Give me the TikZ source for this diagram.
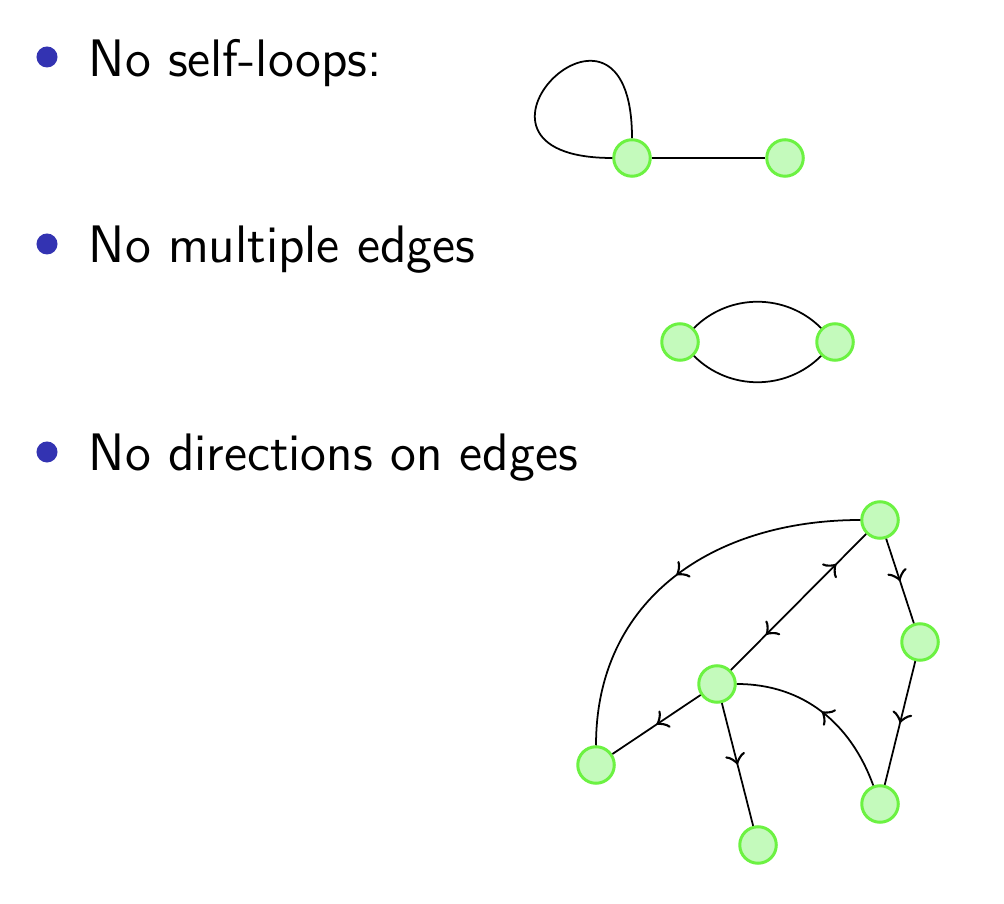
\documentclass[tikz,border=0pt]{standalone}
\usepackage{amsmath}
\usepackage{amssymb}
\usepackage{tikz}
\usepackage{xcolor}
\usetikzlibrary{positioning, arrows, decorations.markings}

\definecolor{bulletblue}{rgb}{0.2,0.2,0.7}
\definecolor{vfill}{RGB}{196,250,188}
\definecolor{vdraw}{RGB}{108,242,66}

\tikzset{
    vertex/.style={circle, draw=vdraw, fill=vfill, line width=0.85pt, inner sep=0pt, minimum size=3.65mm},
    bulletdot/.style={circle, fill=bulletblue, inner sep=0pt, minimum size=2.1mm},
    itemtext/.style={anchor=base west, inner sep=0pt, font=\fontsize{15}{18}\selectfont\sffamily},
    mid arrow/.style={postaction={decorate}, decoration={markings, mark=at position 0.5 with {\arrow[scale=1.5]{>}}}}
}

\begin{document}
\begin{tikzpicture}[x=0.01cm, y=0.01cm, line width=0.5pt]
                \useasboundingbox (0,0) rectangle (1004,-904);

                % the three points
                \node[bulletdot] (b1) at (47,-57) {};
                \node[bulletdot] (b2) at (47,-244) {};
                \node[bulletdot] (b3) at (47,-452) {};
                \node[itemtext] (t1) at (88,-77) {No self-loops:};
                \node[itemtext] (t2) at (88,-263) {No multiple edges};
                \node[itemtext] (t3) at (88,-471) {No directions on edges};

                % self-loop
                \node[vertex] (a1) at (632,-158) {};
                \node[vertex] (a2) at (785,-158) {};
                \draw (a1) to[out=90, in=180, min distance=1.85cm] (a1);
                \draw (a1) -- (a2);

                % multiple edges
                \node[vertex] (c1) at (680,-342) {};
                \node[vertex] (c2) at (835,-342) {};
                \draw (c1) to[bend left=45] (c2);
                \draw (c1) to[bend right=45] (c2);

                % directed graph
                \node[vertex] (top) at (880,-520) {};
                \node[vertex] (rgt) at (920,-642) {};
                \node[vertex] (mid) at (717,-684) {};
                \node[vertex] (lft) at (596,-765) {};
                \node[vertex] (bot) at (758,-845) {};
                \node[vertex] (brt) at (880,-804) {};

                \draw[mid arrow] (top) -- (rgt);
                \draw[mid arrow] (rgt) -- (brt);
                \draw[mid arrow] (brt) to[out=110, in=0] (mid);
                \draw[mid arrow] (top) to[out=180, in=90, looseness=1.08] (lft);
                \draw[mid arrow] (mid) -- (lft);
                \draw[mid arrow] (mid) -- (bot);
                \draw[postaction={decorate}, decoration={markings,
                    mark=at position 0.26 with {\arrowreversed[scale=1.5]{>}},
                    mark=at position 0.78 with {\arrow[scale=1.5]{>}}}] (mid) -- (top);
            \end{tikzpicture}
\end{document}
